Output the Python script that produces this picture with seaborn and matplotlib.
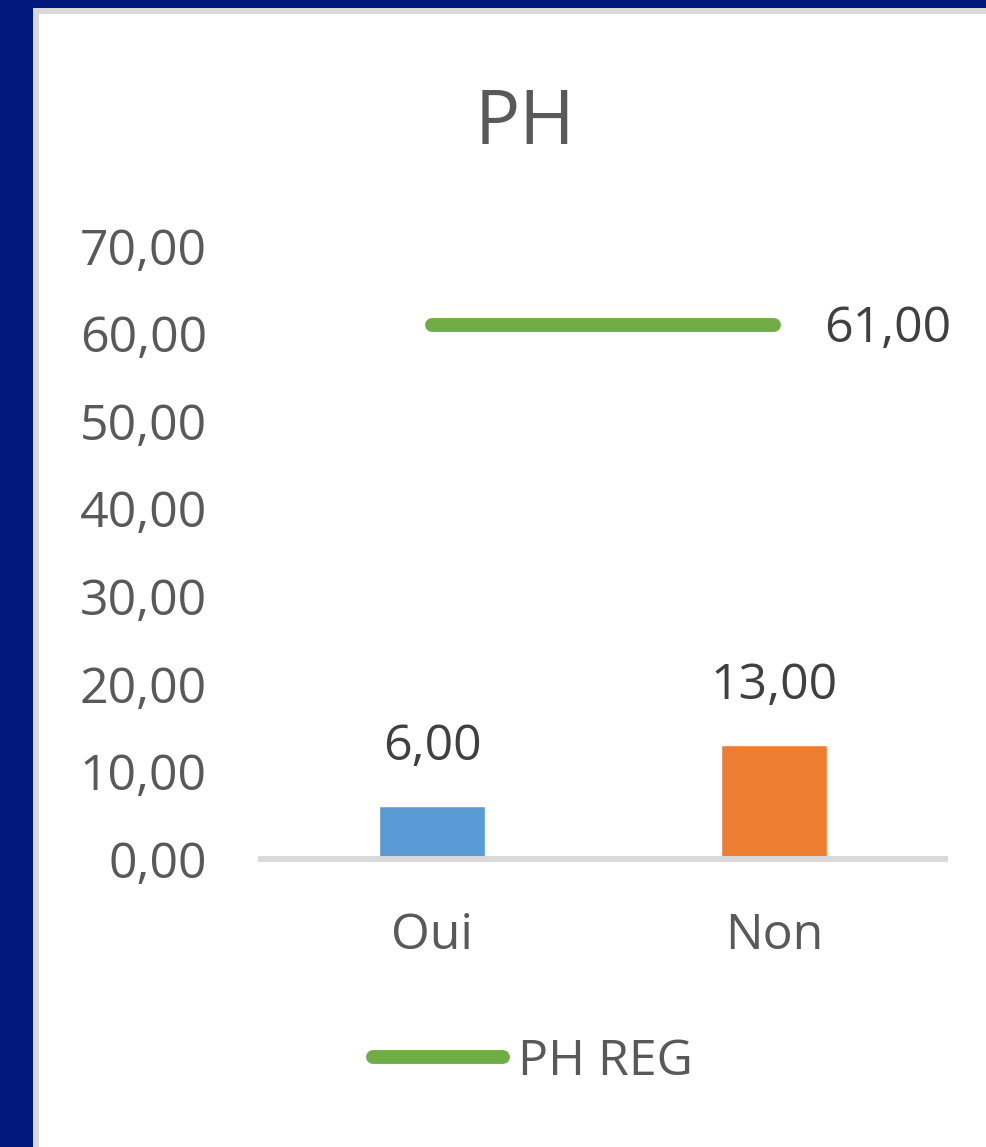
import matplotlib
matplotlib.use("Agg")
import matplotlib.pyplot as plt
from matplotlib.patches import Rectangle
from matplotlib.ticker import FuncFormatter, MultipleLocator
from matplotlib.lines import Line2D
import seaborn as sns
import pandas as pd

# Data
categories = ["Oui", "Non"]
values = [6.00, 13.00]
ph_reg = [61.00, 61.00]
bar_colors = ["#5B9BD5", "#ED7D31"]
line_color = "#70AD47"
title = "PH"
legend_label = "PH REG"

sns.set_theme(style="white")
plt.rcParams["font.family"] = ["Open Sans", "DejaVu Sans"]

W, H = 987, 1147
fig = plt.figure(figsize=(W / 100, H / 100), dpi=100)
fig.patch.set_facecolor("#00197A")

# Framed white panel
fig.add_artist(Rectangle((33 / W, 0), 1 - 33 / W, 1 - 8 / H, transform=fig.transFigure,
                         facecolor="#D9D9D9", edgecolor="none", zorder=0))
fig.add_artist(Rectangle((39 / W, 0), 1 - 39 / W, 1 - 14 / H, transform=fig.transFigure,
                         facecolor="white", edgecolor="none", zorder=0))

ax = fig.add_axes([261 / W, (H - 859) / H, 684 / W, 613 / H])
ax.set_facecolor("none")

df = pd.DataFrame({"cat": categories, "val": values})
sns.barplot(data=df, x="cat", y="val", hue="cat", palette=bar_colors,
            width=0.31, legend=False, ax=ax, saturation=1, zorder=2)

line_df = pd.DataFrame({"cat": categories, "ph": ph_reg})
sns.lineplot(data=line_df, x="cat", y="ph", color=line_color, linewidth=10,
             solid_capstyle="round", ax=ax, zorder=3, sort=False)

fmt = lambda v: f"{v:.2f}".replace(".", ",")

# Value labels
for i, v in enumerate(values):
    ax.annotate(fmt(v), (i, v), xytext=(0, 34), textcoords="offset pixels",
                ha="center", va="bottom", fontsize=36, color="#404040")
ax.annotate(fmt(ph_reg[-1]), (len(categories) - 1, ph_reg[-1]), xytext=(50, -4),
            textcoords="offset pixels", ha="left", va="center", fontsize=36, color="#404040")

ax.set_ylim(0, 70)
ax.set_xlim(-0.5, 1.5)
ax.yaxis.set_major_locator(MultipleLocator(10))
ax.yaxis.set_major_formatter(FuncFormatter(lambda v, p: fmt(v)))
ax.tick_params(axis="y", length=0, pad=39, labelsize=36, labelcolor="#595959")
ax.tick_params(axis="x", length=0, pad=38, labelsize=36, labelcolor="#595959")
ax.set_xlabel("")
ax.set_ylabel("")
for s in ["top", "right", "left"]:
    ax.spines[s].set_visible(False)
ax.spines["bottom"].set_color("#D9D9D9")
ax.spines["bottom"].set_linewidth(4.3)
ax.spines["bottom"].set_zorder(4)

fig.text(525 / W, 1 - 124 / H, title, ha="center", va="center", fontsize=54, color="#595959")

handle = Line2D([], [], color=line_color, linewidth=10, solid_capstyle="round")
fig.legend([handle], [legend_label], loc="center", bbox_to_anchor=(533 / W, 1 - 1062 / H),
           frameon=False, fontsize=36, labelcolor="#595959", handlelength=2.6,
           handletextpad=0.3)

fig.savefig("out.png", dpi=100)
